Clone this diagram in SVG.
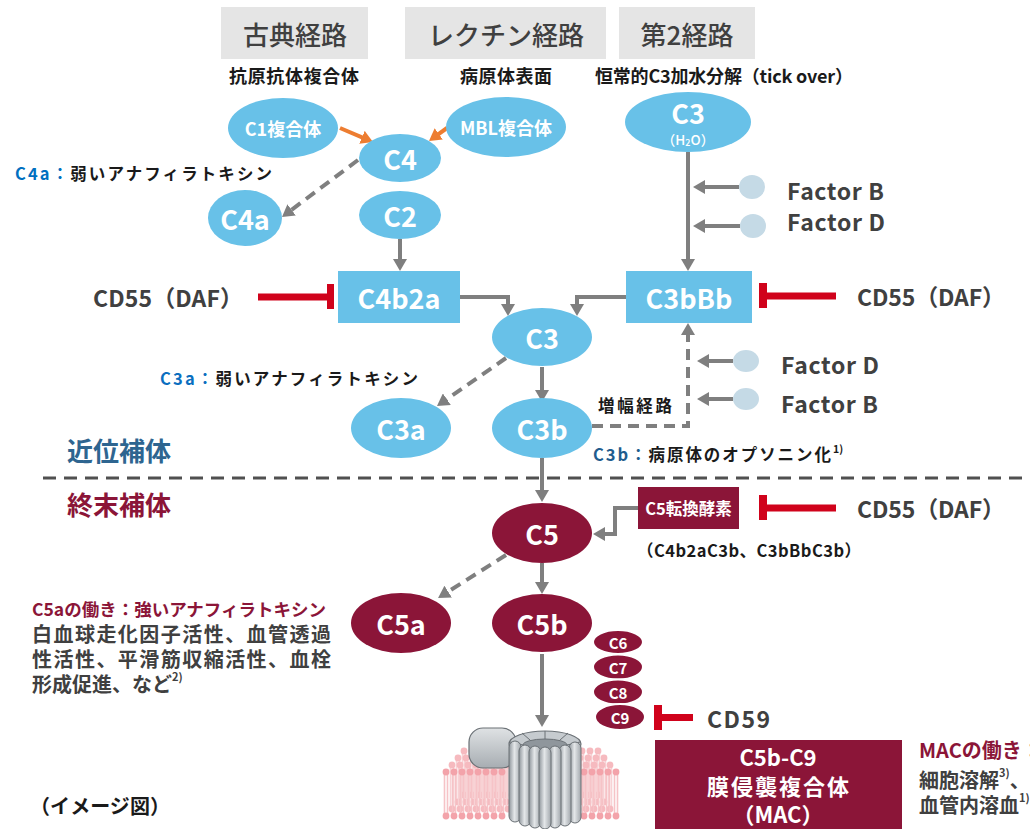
<svg xmlns="http://www.w3.org/2000/svg" xmlns:xlink="http://www.w3.org/1999/xlink" width="1030" height="829" viewBox="0 0 1030 829">
  <style>
    text { font-family: "Noto Sans CJK JP", "Noto Sans", sans-serif; dominant-baseline: central; }
    .hdr { font-size: 26px; font-weight: 500; fill: #404040; text-anchor: middle; }
    .hdrbox { fill: #e5e5e5; }
    .sub { font-size: 18px; font-weight: 700; fill: #1a1a1a; }
    .mid { text-anchor: middle; }
    .blue { fill: #68c1e8; }
    .maroon { fill: #8b1538; }
    .nl { font-size: 27px; font-weight: 700; fill: #ffffff; text-anchor: middle; }
    .ns { font-size: 18px; font-weight: 700; fill: #ffffff; text-anchor: middle; }
    .nxs { font-size: 15px; font-weight: 700; fill: #ffffff; text-anchor: middle; }
    .lbl { font-size: 23px; font-weight: 700; fill: #404040; }
    .note { font-size: 16.5px; font-weight: 700; fill: #1a1a1a; }
    .sec { font-size: 26px; font-weight: 700; }
    .body { font-size: 20px; font-weight: 700; fill: #404040; }
    .mac { font-size: 22px; font-weight: 700; fill: #ffffff; text-anchor: middle; }
    .conn { stroke: #7f7f7f; stroke-width: 4; fill: none; }
    .dash { stroke-dasharray: 11 7; }
    .orange { stroke: #ed7d31; stroke-width: 4; fill: none; }
    .inh { fill: #d0021b; }
    .factor { fill: #c5dae6; }
    .lip-head { fill: #f3a3aa; }
    .lip-tail { stroke: #f6c3c7; stroke-width: 1.6; }
  </style>
  <defs>
    <marker id="ah" viewBox="0 0 12 14" refX="2" refY="7" markerWidth="12" markerHeight="14" markerUnits="userSpaceOnUse" orient="auto">
      <path d="M0,0 L12,7 L0,14 z" fill="#7f7f7f"/>
    </marker>
    <marker id="ah-or" viewBox="0 0 12 14" refX="2" refY="7" markerWidth="12" markerHeight="14" markerUnits="userSpaceOnUse" orient="auto">
      <path d="M0,0 L12,7 L0,14 z" fill="#ed7d31"/>
    </marker>
    <linearGradient id="stave" x1="0" y1="0" x2="1" y2="0">
      <stop offset="0" stop-color="#8f969c"/>
      <stop offset="0.45" stop-color="#e4e7e9"/>
      <stop offset="1" stop-color="#a1a7ac"/>
    </linearGradient>
    <linearGradient id="blob" x1="0" y1="0" x2="0" y2="1">
      <stop offset="0" stop-color="#dfe2e4"/>
      <stop offset="1" stop-color="#a7adb2"/>
    </linearGradient>
    <g id="lipid">
      <line class="lip-tail" x1="-1.5" y1="0" x2="-1.5" y2="44"/>
      <line class="lip-tail" x1="1.5" y1="0" x2="1.5" y2="44"/>
      <circle class="lip-head" cx="0" cy="0" r="3.4"/>
      <circle class="lip-head" cx="0" cy="44" r="3.4"/>
    </g>
  </defs>

  <!-- pathway headers -->
  <g id="hdr-classical">
    <rect class="hdrbox" x="221" y="7" width="147" height="52"/>
    <text class="hdr" x="295" y="33">古典経路</text>
    <text class="sub" x="229" y="75" textLength="130" lengthAdjust="spacing">抗原抗体複合体</text>
  </g>
  <g id="hdr-lectin">
    <rect class="hdrbox" x="405" y="7" width="201" height="52"/>
    <text class="hdr" x="506" y="33">レクチン経路</text>
    <text class="sub" x="460" y="75" textLength="92" lengthAdjust="spacing">病原体表面</text>
  </g>
  <g id="hdr-alternative">
    <rect class="hdrbox" x="619" y="7" width="136" height="52"/>
    <text class="hdr" x="687" y="33">第2経路</text>
    <text class="sub" x="595" y="75" textLength="258" lengthAdjust="spacing">恒常的C3加水分解（tick over）</text>
  </g>

  <!-- connectors -->
  <g id="connectors">
    <line class="orange" x1="340" y1="128" x2="363.8" y2="138.1" marker-end="url(#ah-or)"/>
    <line class="orange" x1="447" y1="128" x2="437.1" y2="135.1" marker-end="url(#ah-or)"/>
    <line class="conn dash" x1="358" y1="160" x2="290" y2="211" marker-end="url(#ah)"/>
    <line class="conn" x1="400" y1="239" x2="400" y2="261" marker-end="url(#ah)"/>
    <line class="conn" x1="688" y1="152" x2="688" y2="261" marker-end="url(#ah)"/>
    <line class="conn" x1="739" y1="187" x2="703" y2="187" marker-end="url(#ah)"/>
    <line class="conn" x1="740" y1="226" x2="703" y2="226" marker-end="url(#ah)"/>
    <path class="conn" d="M460,297 H508 V306" marker-end="url(#ah)"/>
    <path class="conn" d="M626,297 H577 V306" marker-end="url(#ah)"/>
    <line class="conn dash" x1="506" y1="358" x2="445.2" y2="400.3" marker-end="url(#ah)"/>
    <line class="conn" x1="542" y1="367" x2="542" y2="392" marker-end="url(#ah)"/>
    <path class="conn dash" d="M592,426 H688 V333" marker-end="url(#ah)"/>
    <line class="conn" x1="733" y1="361" x2="707" y2="361" marker-end="url(#ah)"/>
    <line class="conn" x1="733" y1="399" x2="707" y2="399" marker-end="url(#ah)"/>
    <line class="conn" x1="542" y1="458" x2="542" y2="492" marker-end="url(#ah)"/>
    <path class="conn" d="M638,508 H615 V534 H603" marker-end="url(#ah)"/>
    <line class="conn dash" x1="506" y1="555" x2="446.5" y2="592.7" marker-end="url(#ah)"/>
    <line class="conn" x1="542" y1="563" x2="542" y2="584" marker-end="url(#ah)"/>
    <line class="conn" x1="542" y1="654" x2="542" y2="717" marker-end="url(#ah)"/>
    <!-- divider between early and terminal components -->
    <line x1="43" y1="478" x2="1030" y2="478" stroke="#505050" stroke-width="3" stroke-dasharray="13 8"/>
  </g>

  <!-- inhibitors -->
  <g id="inh-cd55-c4b2a">
    <rect class="inh" x="258" y="293.5" width="72" height="7"/>
    <rect class="inh" x="327" y="284" width="7" height="25"/>
    <text class="lbl" x="93" y="297" textLength="150" lengthAdjust="spacing">CD55（DAF）</text>
  </g>
  <g id="inh-cd55-c3bbb">
    <rect class="inh" x="759" y="283" width="8" height="25"/>
    <rect class="inh" x="764" y="292.5" width="72" height="7"/>
    <text class="lbl" x="857" y="296" textLength="148" lengthAdjust="spacing">CD55（DAF）</text>
  </g>
  <g id="inh-cd55-c5conv">
    <rect class="inh" x="759" y="495" width="8" height="25"/>
    <rect class="inh" x="764" y="504.5" width="72" height="7"/>
    <text class="lbl" x="857" y="508" textLength="148" lengthAdjust="spacing">CD55（DAF）</text>
  </g>
  <g id="inh-cd59">
    <rect class="inh" x="654" y="705" width="8" height="25"/>
    <rect class="inh" x="659" y="714" width="34" height="7"/>
    <text class="lbl" x="707" y="718" textLength="63" lengthAdjust="spacing">CD59</text>
  </g>

  <!-- early components -->
  <g id="n-c1">
    <ellipse class="blue" cx="283" cy="128" rx="55" ry="30"/>
    <text class="ns" x="283" y="128">C1複合体</text>
  </g>
  <g id="n-mbl">
    <ellipse class="blue" cx="506" cy="127" rx="60" ry="30"/>
    <text class="ns" x="506" y="127">MBL複合体</text>
  </g>
  <g id="n-c4">
    <ellipse class="blue" cx="400" cy="158" rx="41" ry="24"/>
    <text class="nl" x="400" y="158">C4</text>
  </g>
  <g id="n-c2">
    <ellipse class="blue" cx="400" cy="215" rx="41" ry="24"/>
    <text class="nl" x="400" y="215">C2</text>
  </g>
  <g id="n-c4a">
    <ellipse class="blue" cx="245" cy="218" rx="37" ry="28"/>
    <text class="nl" x="245" y="218">C4a</text>
    <text class="note" x="15" y="173" textLength="257" lengthAdjust="spacing"><tspan fill="#0070c0">C4a：</tspan>弱いアナフィラトキシン</text>
  </g>
  <g id="n-c3-h2o">
    <ellipse class="blue" cx="688" cy="122" rx="63" ry="30"/>
    <text class="nl" x="688" y="112">C3</text>
    <text x="688" y="139" font-size="13.5" font-weight="500" fill="#ffffff" text-anchor="middle">（H<tspan font-size="9" dy="3">2</tspan><tspan dy="-3">O）</tspan></text>
  </g>
  <g id="n-factor-b1">
    <ellipse class="factor" cx="752" cy="187" rx="13" ry="12"/>
    <text class="lbl" x="787" y="190" textLength="97" lengthAdjust="spacing">Factor B</text>
  </g>
  <g id="n-factor-d1">
    <ellipse class="factor" cx="753" cy="226" rx="13" ry="12"/>
    <text class="lbl" x="787" y="221" textLength="98" lengthAdjust="spacing">Factor D</text>
  </g>
  <g id="n-c4b2a">
    <rect class="blue" x="338" y="271" width="122" height="52"/>
    <text class="nl" x="399" y="297">C4b2a</text>
  </g>
  <g id="n-c3bbb">
    <rect class="blue" x="626" y="271" width="126" height="52"/>
    <text class="nl" x="689" y="297">C3bBb</text>
  </g>
  <g id="n-c3">
    <ellipse class="blue" cx="542" cy="337" rx="50" ry="29"/>
    <text class="nl" x="542" y="337">C3</text>
  </g>
  <g id="n-c3a">
    <ellipse class="blue" cx="401" cy="428" rx="50" ry="30"/>
    <text class="nl" x="401" y="428">C3a</text>
    <text class="note" x="160" y="378" textLength="258" lengthAdjust="spacing"><tspan fill="#0b6fbf">C3a：</tspan>弱いアナフィラトキシン</text>
  </g>
  <g id="n-c3b">
    <ellipse class="blue" cx="542" cy="428" rx="50" ry="30"/>
    <text class="nl" x="542" y="428">C3b</text>
    <text class="note" x="593" y="454" textLength="238" lengthAdjust="spacing"><tspan fill="#1f5d8e">C3b：</tspan>病原体のオプソニン化</text>
    <text x="833" y="448" font-size="10.5" font-weight="700" fill="#1a1a1a">1)</text>
    <text class="note" x="598" y="405" textLength="74" lengthAdjust="spacing">増幅経路</text>
  </g>
  <g id="n-factor-d2">
    <ellipse class="factor" cx="746" cy="361" rx="13" ry="11"/>
    <text class="lbl" x="781" y="364" textLength="98" lengthAdjust="spacing">Factor D</text>
  </g>
  <g id="n-factor-b2">
    <ellipse class="factor" cx="746" cy="399" rx="13" ry="11"/>
    <text class="lbl" x="781" y="403" textLength="97" lengthAdjust="spacing">Factor B</text>
  </g>

  <!-- section labels -->
  <g id="sec-proximal">
    <text class="sec" x="67" y="449" fill="#2e6590">近位補体</text>
  </g>
  <g id="sec-terminal">
    <text class="sec" x="67" y="503" fill="#8b1538">終末補体</text>
  </g>

  <!-- terminal components -->
  <g id="n-c5conv">
    <rect class="maroon" x="638" y="487" width="101" height="42"/>
    <text x="688.5" y="508" font-size="16.5" font-weight="700" fill="#ffffff" text-anchor="middle">C5転換酵素</text>
    <text class="note" x="637" y="550" textLength="224" lengthAdjust="spacing">（C4b2aC3b、C3bBbC3b）</text>
  </g>
  <g id="n-c5">
    <ellipse class="maroon" cx="542" cy="533" rx="50" ry="30"/>
    <text class="nl" x="542" y="533">C5</text>
  </g>
  <g id="n-c5a">
    <ellipse class="maroon" cx="401" cy="623" rx="50" ry="30"/>
    <text class="nl" x="401" y="623">C5a</text>
  </g>
  <g id="n-c5a-note">
    <text x="32" y="608" font-size="17.5" font-weight="700" fill="#8b1538" textLength="294" lengthAdjust="spacingAndGlyphs">C5aの働き：強いアナフィラトキシン</text>
    <text class="body" x="32" y="633" textLength="299" lengthAdjust="spacing">白血球走化因子活性、血管透過</text>
    <text class="body" x="32" y="658" textLength="299" lengthAdjust="spacing">性活性、平滑筋収縮活性、血栓</text>
    <text class="body" x="32" y="683">形成促進、など<tspan font-size="11" dy="-7">2)</tspan></text>
  </g>
  <g id="n-c5b">
    <ellipse class="maroon" cx="542" cy="623" rx="50" ry="29"/>
    <text class="nl" x="542" y="623">C5b</text>
  </g>
  <g id="n-c6">
    <ellipse class="maroon" cx="618" cy="642" rx="25" ry="12" stroke="#ffffff" stroke-width="2"/>
    <text class="nxs" x="618" y="642">C6</text>
  </g>
  <g id="n-c7">
    <ellipse class="maroon" cx="618" cy="667" rx="25" ry="12.5" stroke="#ffffff" stroke-width="2"/>
    <text class="nxs" x="618" y="667">C7</text>
  </g>
  <g id="n-c8">
    <ellipse class="maroon" cx="618" cy="692" rx="25" ry="12.5" stroke="#ffffff" stroke-width="2"/>
    <text class="nxs" x="618" y="692">C8</text>
  </g>
  <g id="n-c9">
    <ellipse class="maroon" cx="620" cy="717" rx="25" ry="13" stroke="#ffffff" stroke-width="2"/>
    <text class="nxs" x="620" y="717">C9</text>
  </g>

  <!-- membrane with pore complex -->
  <g id="n-membrane">
    <!-- left bilayer slab, back rows first -->
    <g opacity="0.75">
      <use xlink:href="#lipid" x="464" y="751"/><use xlink:href="#lipid" x="472" y="751"/><use xlink:href="#lipid" x="480" y="751"/><use xlink:href="#lipid" x="488" y="751"/><use xlink:href="#lipid" x="496" y="751"/><use xlink:href="#lipid" x="504" y="751"/><use xlink:href="#lipid" x="512" y="751"/><use xlink:href="#lipid" x="520" y="751"/>
      <use xlink:href="#lipid" x="458" y="758"/><use xlink:href="#lipid" x="466" y="758"/><use xlink:href="#lipid" x="474" y="758"/><use xlink:href="#lipid" x="482" y="758"/><use xlink:href="#lipid" x="490" y="758"/><use xlink:href="#lipid" x="498" y="758"/><use xlink:href="#lipid" x="506" y="758"/><use xlink:href="#lipid" x="514" y="758"/>
      <use xlink:href="#lipid" x="452" y="765"/><use xlink:href="#lipid" x="460" y="765"/><use xlink:href="#lipid" x="468" y="765"/><use xlink:href="#lipid" x="476" y="765"/><use xlink:href="#lipid" x="484" y="765"/><use xlink:href="#lipid" x="492" y="765"/><use xlink:href="#lipid" x="500" y="765"/><use xlink:href="#lipid" x="508" y="765"/>
    </g>
    <use xlink:href="#lipid" x="446" y="772"/><use xlink:href="#lipid" x="454" y="772"/><use xlink:href="#lipid" x="462" y="772"/><use xlink:href="#lipid" x="470" y="772"/><use xlink:href="#lipid" x="478" y="772"/><use xlink:href="#lipid" x="486" y="772"/><use xlink:href="#lipid" x="494" y="772"/><use xlink:href="#lipid" x="502" y="772"/>
    <!-- right bilayer slab -->
    <g opacity="0.75">
      <use xlink:href="#lipid" x="566" y="751"/><use xlink:href="#lipid" x="574" y="751"/><use xlink:href="#lipid" x="582" y="751"/><use xlink:href="#lipid" x="590" y="751"/><use xlink:href="#lipid" x="598" y="751"/>
      <use xlink:href="#lipid" x="572" y="758"/><use xlink:href="#lipid" x="580" y="758"/><use xlink:href="#lipid" x="588" y="758"/><use xlink:href="#lipid" x="596" y="758"/><use xlink:href="#lipid" x="604" y="758"/>
      <use xlink:href="#lipid" x="578" y="765"/><use xlink:href="#lipid" x="586" y="765"/><use xlink:href="#lipid" x="594" y="765"/><use xlink:href="#lipid" x="602" y="765"/><use xlink:href="#lipid" x="610" y="765"/>
    </g>
    <use xlink:href="#lipid" x="584" y="772"/><use xlink:href="#lipid" x="592" y="772"/><use xlink:href="#lipid" x="600" y="772"/><use xlink:href="#lipid" x="608" y="772"/><use xlink:href="#lipid" x="616" y="772"/>
    <!-- membrane protein -->
    <rect x="469" y="728" width="47" height="40" rx="14" fill="url(#blob)" stroke="#6a7075" stroke-width="1.2"/>
    <!-- pore ring -->
    <ellipse cx="545" cy="744" rx="36" ry="13" fill="#c6cbcf" stroke="#6a7075" stroke-width="1.2"/>
    <ellipse cx="545" cy="745" rx="22" ry="6" fill="#8f969c" stroke="#6a7075" stroke-width="1"/>
    <g stroke="#6a7075" stroke-width="1">
      <line x1="523" y1="745" x2="510" y2="742"/><line x1="530" y1="740" x2="522" y2="733"/><line x1="545" y1="739" x2="545" y2="731"/><line x1="560" y1="740" x2="568" y2="733"/><line x1="567" y1="745" x2="580" y2="742"/>
    </g>
    <g fill="url(#stave)" stroke="#6a7075" stroke-width="1">
      <rect x="509" y="741" width="12" height="81" rx="6"/>
      <rect x="569" y="742" width="12" height="81" rx="6"/>
      <rect x="519" y="745" width="12" height="81" rx="6"/>
      <rect x="559" y="745" width="12" height="81" rx="6"/>
      <rect x="529" y="746" width="12" height="82" rx="6"/>
      <rect x="549" y="746" width="12" height="82" rx="6"/>
      <rect x="539" y="747" width="12" height="82" rx="6"/>
    </g>
  </g>

  <g id="n-mac">
    <rect class="maroon" x="655" y="740" width="247" height="89"/>
    <text class="mac" x="778" y="756">C5b-C9</text>
    <text class="mac" x="778" y="785" textLength="142" lengthAdjust="spacing">膜侵襲複合体</text>
    <text class="mac" x="778" y="813">（MAC）</text>
  </g>
  <g id="n-mac-note">
    <text x="919" y="749" font-size="20" font-weight="700" fill="#8b1538">MACの働き：</text>
    <text class="body" x="919" y="779">細胞溶解<tspan font-size="11" dy="-7">3)</tspan><tspan dy="7">、</tspan></text>
    <text class="body" x="919" y="804">血管内溶血<tspan font-size="11" dy="-7">1)</tspan></text>
  </g>

  <g id="caption">
    <text x="30" y="805" font-size="20" font-weight="700" fill="#1a1a1a" textLength="140" lengthAdjust="spacing">（イメージ図）</text>
  </g>
</svg>
